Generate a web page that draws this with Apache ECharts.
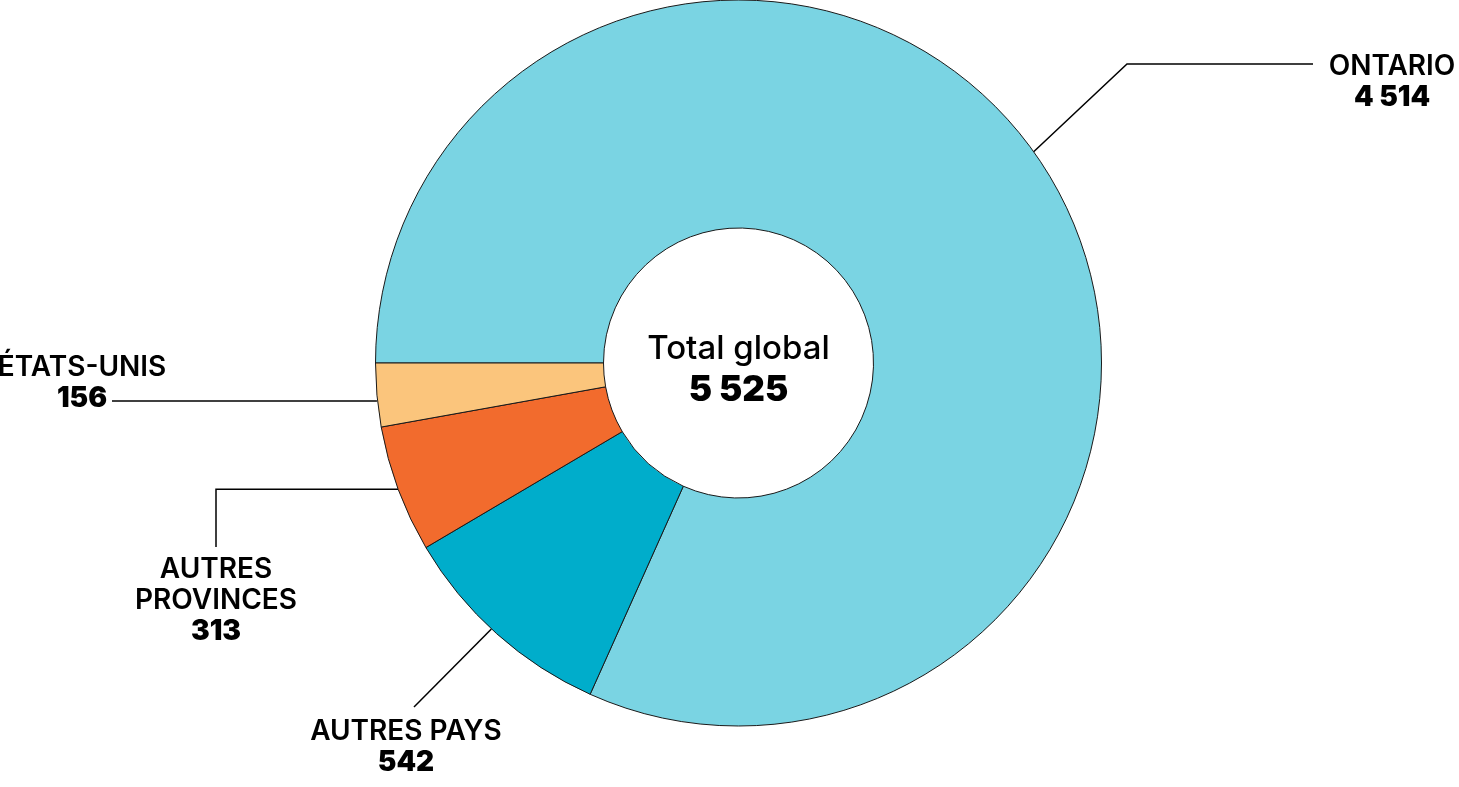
<!DOCTYPE html>
<html><head><meta charset="utf-8">
<script src="https://cdn.jsdelivr.net/npm/echarts@6/dist/echarts.min.js"></script>
<style>html,body{margin:0;padding:0;background:#fff}#c{width:1459px;height:787px}</style>
</head><body><div id="c"></div>
<script>
// ---- data ----
const categories = ['ONTARIO', 'AUTRES PAYS', 'AUTRES\nPROVINCES', 'ÉTATS-UNIS'];
const values = [4514, 542, 313, 156];
const totalTitle = 'Total global';

// ---- styles ----
const colors = ['#7AD4E3', '#00ADCB', '#F26B2D', '#FBC57C'];
const FONT = 'Inter, "Noto Sans", sans-serif';
const TXT = '#000';
const fmt = n => String(n).replace(/\B(?=(\d{3})+(?!\d))/g, ' ');
const total = values.reduce((a, b) => a + b, 0);

const CX = 738.5, CY = 363, R_IN = 135, R_OUT = 363;
const onArc = deg => [CX + R_OUT * Math.cos(deg * Math.PI / 180), CY - R_OUT * Math.sin(deg * Math.PI / 180)];
// label anchor positions and leader-line routes (layout only)
const labelLayouts = [
  { x: 1392, y: 82, line: p => [onArc(35.6), [1127, 64], [1313, 64]] },
  { x: 406, y: 747, line: p => [onArc(-132.9), [414, 707]] },
  { x: 216, y: 601, line: p => [p, [216, p[1]], [216, 547]] },
  { x: 82, y: 383, line: p => [[p[0], 401], [112, 401]] }
];

const chart = echarts.init(document.getElementById('c'), null, { renderer: 'canvas' });
chart.setOption({
  animation: false,
  backgroundColor: '#fff',
  color: colors,
  graphic: [
    { type: 'text', x: CX, y: 349, z: 10,
      style: { text: totalTitle, align: 'center', verticalAlign: 'middle',
        font: '500 33px ' + FONT, fill: TXT } },
    { type: 'text', x: CX, y: 390, z: 10,
      style: { text: fmt(total), align: 'center', verticalAlign: 'middle',
        font: '900 35px ' + FONT, fill: TXT } }
  ],
  series: [{
    type: 'pie',
    center: [CX, CY],
    radius: [R_IN, R_OUT],
    startAngle: 180,
    clockwise: true,
    avoidLabelOverlap: false,
    itemStyle: { borderColor: '#1a1a1a', borderWidth: 1 },
    label: {
      show: true,
      position: 'outside',
      fontFamily: FONT,
      color: TXT,
      formatter: p => p.name.split('\n').map(s => '{n|' + s + '}').join('\n') + '\n{v|' + fmt(p.value) + '}',
      rich: {
        n: { fontFamily: FONT, fontSize: 28, fontWeight: 600, lineHeight: 31, color: TXT },
        v: { fontFamily: FONT, fontSize: 28, fontWeight: 900, lineHeight: 31, color: TXT }
      }
    },
    labelLine: { show: true, lineStyle: { color: '#000', width: 1.5 } },
    labelLayout: params => {
      const L = labelLayouts[params.dataIndex];
      const p0 = params.labelLinePoints ? params.labelLinePoints[0] : [CX, CY];
      return { x: L.x, y: L.y, align: 'center', verticalAlign: 'middle', labelLinePoints: L.line(p0) };
    },
    emphasis: { disabled: true },
    data: categories.map((c, i) => ({ name: c, value: values[i] }))
  }]
});
</script></body></html>
